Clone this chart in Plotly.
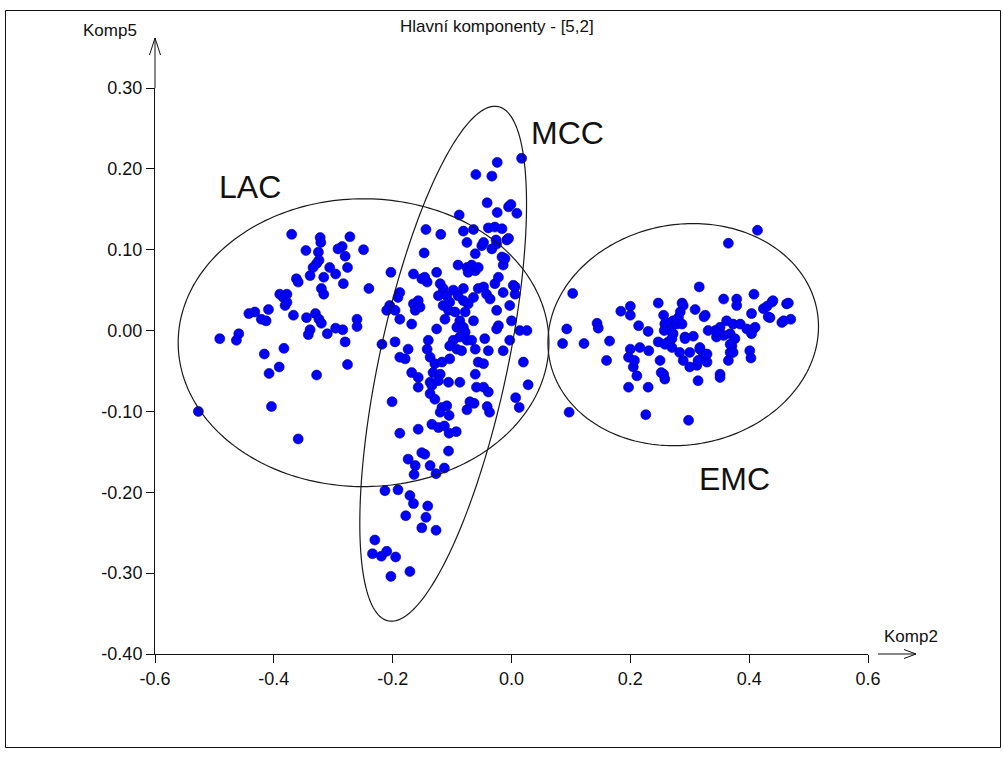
import numpy as np
import plotly.graph_objects as go

# Component scores (Komp2, Komp5) per group
lac_pts = [
    (-0.370, 0.119), (-0.322, 0.115), (-0.321, 0.109), (-0.272, 0.116), (-0.285, 0.104),
    (-0.292, 0.101), (-0.249, 0.100), (-0.346, 0.099), (-0.325, 0.097), (-0.280, 0.092),
    (-0.324, 0.087), (-0.328, 0.083), (-0.334, 0.078), (-0.306, 0.078), (-0.276, 0.078),
    (-0.339, 0.068), (-0.296, 0.070), (-0.316, 0.066), (-0.362, 0.064), (-0.359, 0.060),
    (-0.283, 0.058), (-0.320, 0.052), (-0.316, 0.045), (-0.240, 0.052), (-0.390, 0.045),
    (-0.378, 0.045), (-0.384, 0.041), (-0.381, 0.031), (-0.432, 0.023), (-0.409, 0.026),
    (-0.378, 0.035), (-0.442, 0.021), (-0.367, 0.019), (-0.421, 0.014), (-0.413, 0.012),
    (-0.345, 0.016), (-0.330, 0.021), (-0.324, 0.014), (-0.320, 0.009), (-0.339, 0.001),
    (-0.342, -0.005), (-0.310, -0.004), (-0.296, 0.003), (-0.284, 0.001), (-0.260, 0.014),
    (-0.260, 0.005), (-0.280, -0.014), (-0.491, -0.010), (-0.459, -0.004), (-0.463, -0.012),
    (-0.416, -0.029), (-0.383, -0.022), (-0.408, -0.053), (-0.391, -0.045), (-0.328, -0.055),
    (-0.276, -0.042), (-0.404, -0.094), (-0.527, -0.100), (-0.359, -0.134), (-0.203, 0.072),
    (-0.218, -0.017),
]

mcc_pts = [
    (-0.165, 0.070), (-0.147, 0.096), (-0.126, 0.072), (-0.151, 0.064), (-0.142, 0.060),
    (-0.188, 0.047), (-0.191, 0.041), (-0.205, 0.031), (-0.210, 0.025), (-0.196, 0.025),
    (-0.188, 0.014), (-0.165, 0.033), (-0.157, 0.037), (-0.162, 0.025), (-0.154, 0.029),
    (-0.168, 0.008), (-0.196, -0.014), (-0.174, -0.023), (-0.188, -0.033), (-0.179, -0.035),
    (-0.168, -0.052), (-0.157, -0.058), (-0.157, -0.070), (-0.140, -0.012), (-0.142, -0.023),
    (-0.137, -0.033), (-0.126, 0.002), (-0.120, 0.058), (-0.115, 0.052), (-0.123, 0.043),
    (-0.109, 0.043), (-0.098, 0.050), (-0.081, 0.052), (-0.090, 0.043), (-0.104, 0.035),
    (-0.115, 0.031), (-0.106, 0.025), (-0.095, 0.023), (-0.081, 0.037), (-0.073, 0.033),
    (-0.078, 0.023), (-0.064, 0.041), (-0.056, 0.052), (-0.047, 0.054), (-0.042, 0.045),
    (-0.036, 0.039), (-0.028, 0.058), (-0.022, 0.066), (-0.014, 0.047), (0.003, 0.056),
    (0.006, 0.045), (-0.003, 0.031), (-0.025, 0.025), (-0.064, 0.012), (-0.087, 0.012),
    (-0.112, 0.014), (-0.092, 0.004), (-0.081, 0.004), (-0.078, -0.002), (-0.087, -0.008),
    (-0.075, -0.012), (-0.067, -0.012), (-0.098, -0.012), (-0.104, -0.019), (-0.092, -0.023),
    (-0.084, -0.025), (-0.061, -0.023), (-0.045, -0.010), (-0.039, -0.025), (-0.022, 0.006),
    (0.000, 0.012), (-0.003, -0.012), (-0.014, -0.025), (0.014, 0.000), (0.026, 0.000),
    (-0.061, 0.074), (-0.075, 0.078), (-0.067, 0.081), (-0.056, 0.078), (-0.090, 0.081),
    (-0.073, 0.072), (-0.014, 0.081), (-0.016, 0.091), (-0.061, 0.095), (-0.050, 0.105),
    (-0.033, 0.101), (-0.025, 0.107), (-0.075, 0.109), (-0.008, 0.112), (-0.129, -0.041),
    (-0.117, -0.039), (-0.132, -0.052), (-0.120, -0.054), (-0.137, -0.064), (-0.123, -0.062),
    (-0.106, -0.064), (-0.087, -0.064), (-0.104, -0.035), (-0.061, -0.054), (-0.056, -0.039),
    (-0.047, -0.041), (-0.059, -0.070), (-0.047, -0.070), (0.020, -0.039), (0.028, -0.067),
    (-0.025, 0.002), (-0.134, -0.068), (-0.039, -0.076), (0.007, -0.083), (0.013, -0.095),
    (-0.201, -0.088), (-0.137, -0.078), (-0.129, -0.085), (-0.117, -0.095), (-0.109, -0.093),
    (-0.120, -0.101), (-0.105, -0.105), (-0.070, -0.088), (-0.063, -0.090), (-0.075, -0.098),
    (-0.041, -0.094), (-0.037, -0.101), (-0.134, -0.116), (-0.123, -0.120), (-0.113, -0.118),
    (-0.157, -0.122), (-0.188, -0.127), (-0.105, -0.127), (-0.093, -0.125), (-0.106, -0.149),
    (-0.151, -0.151), (-0.146, -0.153), (-0.174, -0.159), (-0.162, -0.167), (-0.137, -0.167),
    (-0.113, -0.170), (-0.127, -0.177), (-0.164, -0.178), (-0.213, -0.198), (-0.191, -0.197),
    (-0.171, -0.204), (-0.165, -0.214), (-0.141, -0.217), (-0.178, -0.229), (-0.144, -0.231),
    (-0.151, -0.244), (-0.127, -0.247), (-0.230, -0.259), (-0.234, -0.276), (-0.219, -0.279),
    (-0.210, -0.273), (-0.195, -0.280), (-0.203, -0.304), (-0.171, -0.298),
    (-0.024, 0.208), (0.017, 0.213), (-0.060, 0.193), (-0.033, 0.191), (-0.041, 0.158),
    (-0.024, 0.146), (-0.005, 0.153), (-0.001, 0.156), (0.009, 0.145), (-0.088, 0.143),
    (-0.144, 0.125), (-0.119, 0.119), (-0.081, 0.123), (-0.064, 0.125), (-0.039, 0.127),
    (-0.028, 0.128), (-0.016, 0.126), (-0.047, 0.109), (-0.026, 0.112), (-0.005, 0.114),
    (-0.011, 0.089), (-0.146, 0.066), (0.006, 0.054),
]

emc_pts = [
    (0.103, 0.046), (0.093, 0.002), (0.086, -0.016), (0.122, -0.016), (0.144, 0.009),
    (0.146, 0.003), (0.165, -0.013), (0.160, -0.037), (0.097, -0.101), (0.184, 0.024),
    (0.200, 0.030), (0.200, 0.019), (0.214, 0.006), (0.230, -0.001), (0.197, -0.070),
    (0.230, -0.070), (0.226, -0.104), (0.200, -0.023), (0.197, -0.033), (0.205, -0.045),
    (0.211, -0.056), (0.216, -0.021), (0.207, -0.037), (0.231, -0.025), (0.247, 0.034),
    (0.256, 0.019), (0.258, 0.008), (0.247, -0.014), (0.264, -0.014), (0.250, -0.037),
    (0.256, -0.054), (0.258, -0.060), (0.272, 0.012), (0.287, 0.034), (0.281, 0.016),
    (0.272, -0.004), (0.292, -0.008), (0.289, -0.037), (0.298, -0.111), (0.260, 0.010),
    (0.257, 0.000), (0.267, 0.000), (0.270, -0.010), (0.258, -0.017), (0.270, -0.021),
    (0.284, 0.023), (0.278, 0.008), (0.283, -0.027), (0.300, -0.027), (0.309, 0.026),
    (0.326, 0.019), (0.316, 0.054), (0.306, -0.007), (0.317, -0.023), (0.312, -0.043),
    (0.329, -0.039), (0.323, -0.029), (0.314, -0.062), (0.351, -0.054), (0.331, 0.000),
    (0.343, 0.000), (0.351, 0.004), (0.362, 0.012), (0.373, 0.008), (0.385, 0.008),
    (0.396, 0.002), (0.407, 0.002), (0.345, -0.008), (0.357, -0.006), (0.368, -0.004),
    (0.376, -0.010), (0.357, 0.039), (0.379, 0.039), (0.379, 0.031), (0.408, 0.045),
    (0.404, 0.021), (0.424, 0.027), (0.438, 0.035), (0.435, 0.016), (0.455, 0.010),
    (0.463, 0.033), (0.371, -0.019), (0.368, -0.027), (0.365, -0.037), (0.401, -0.025),
    (0.403, -0.034), (0.252, -0.052), (0.414, 0.124), (0.365, 0.108), (0.440, 0.037),
    (0.466, 0.034), (0.470, 0.014), (0.458, 0.012), (0.430, 0.030), (0.432, 0.017),
    (0.324, 0.017), (0.289, 0.031), (0.287, 0.008), (0.292, -0.010), (0.317, -0.021),
    (0.329, -0.029), (0.314, -0.037), (0.300, -0.045), (0.351, -0.058), (0.345, -0.002),
    (0.410, 0.004), (0.404, -0.004), (0.368, -0.017), (0.373, -0.027),
]

# Group outlines: centre, first semi-axis vector, second semi-axis vector (data units)
group_ellipses = {
    "LAC": ((-0.249, -0.015), (0.312, 0.0), (0.0, 0.178)),
    "MCC": ((-0.115, -0.041), (0.0926, 0.318), (0.1054, -0.0166)),
    "EMC": ((0.289, -0.005), (0.2254, 0.0292), (0.0322, -0.1342)),
}

group_labels = {
    "LAC": (-0.440, 0.177),
    "MCC": (0.095, 0.244),
    "EMC": (0.376, -0.183),
}

x_ticks = [-0.6, -0.4, -0.2, 0.0, 0.2, 0.4, 0.6]
x_tick_text = ["-0.6", "-0.4", "-0.2", "0.0", "0.2", "0.4", "0.6"]
y_ticks = [-0.4, -0.3, -0.2, -0.1, 0.0, 0.1, 0.2, 0.3]
y_tick_text = ["-0.40", "-0.30", "-0.20", "-0.10", "0.00", "0.10", "0.20", "0.30"]

FONT = "Liberation Sans, Arial, sans-serif"
INK = "#111111"
W, H = 1004, 760
ML, MR, MT, MB = 155, 136, 88, 106
PW, PH = W - ML - MR, H - MT - MB


def px(x):
    return (x - ML) / PW


def py(y):
    return (H - MB - y) / PH


def ellipse_path(c, u, v, n=240):
    t = np.linspace(0, 2 * np.pi, n)
    xs = c[0] + u[0] * np.cos(t) + v[0] * np.sin(t)
    ys = c[1] + u[1] * np.cos(t) + v[1] * np.sin(t)
    return "M " + " L ".join(f"{a:.5f},{b:.5f}" for a, b in zip(xs, ys)) + " Z"


all_pts = lac_pts + mcc_pts + emc_pts
xs = [p[0] for p in all_pts]
ys = [p[1] for p in all_pts]

fig = go.Figure()
fig.add_trace(go.Scatter(
    x=xs, y=ys, mode="markers",
    marker=dict(color="#0000ff", size=10, line=dict(width=0.6, color="#00008b")),
    hoverinfo="x+y", showlegend=False,
))

shapes = []
for name, (c, u, v) in group_ellipses.items():
    shapes.append(dict(type="path", xref="x", yref="y", path=ellipse_path(c, u, v),
                       line=dict(color="#1a1a1a", width=1.2), fillcolor="rgba(0,0,0,0)"))

line_style = dict(color=INK, width=1)
# y axis extension and arrow head
shapes.append(dict(type="line", xref="paper", yref="paper", x0=0, x1=0, y0=1, y1=py(38), line=line_style))
shapes.append(dict(type="path", xref="paper", yref="paper",
                   path=f"M {px(149.5)},{py(55)} L {px(155)},{py(38)} L {px(160.5)},{py(55)}",
                   line=line_style))
# x axis arrow beyond the last tick
shapes.append(dict(type="line", xref="paper", yref="paper", x0=px(878), x1=px(916), y0=0, y1=0, line=line_style))
shapes.append(dict(type="path", xref="paper", yref="paper",
                   path=f"M {px(904)},{py(649.5)} L {px(916)},{py(654)} L {px(904)},{py(658.5)}",
                   line=line_style))
# outer frame
shapes.append(dict(type="rect", xref="paper", yref="paper",
                   x0=px(5.5), x1=px(1000.5), y0=py(747.5), y1=py(10.5),
                   line=dict(color=INK, width=1)))

annotations = []
for name, (lx, ly) in group_labels.items():
    annotations.append(dict(x=lx, y=ly, xref="x", yref="y", text=name, showarrow=False,
                            xanchor="center", yanchor="middle",
                            font=dict(family=FONT, size=32, color=INK)))
annotations.append(dict(x=px(110), y=py(31), xref="paper", yref="paper", text="Komp5",
                        xanchor="center", yanchor="middle",
                        showarrow=False, font=dict(family=FONT, size=17, color=INK)))
annotations.append(dict(x=px(911), y=py(636), xref="paper", yref="paper", text="Komp2",
                        xanchor="center", yanchor="middle",
                        showarrow=False, font=dict(family=FONT, size=17, color=INK)))
annotations.append(dict(x=px(497), y=py(27), xref="paper", yref="paper",
                        text="Hlavní komponenty - [5,2]",
                        xanchor="center", yanchor="middle",
                        showarrow=False, font=dict(family=FONT, size=17, color=INK)))

fig.update_layout(
    width=W, height=H,
    margin=dict(l=ML, r=MR, t=MT, b=MB, pad=0),
    paper_bgcolor="white", plot_bgcolor="white",
    font=dict(family=FONT, size=18, color=INK),
    shapes=shapes, annotations=annotations,
    xaxis=dict(range=[-0.6, 0.6], tickvals=x_ticks, ticktext=x_tick_text,
               showgrid=False, zeroline=False, showline=True, linecolor=INK,
               linewidth=1, ticks="outside", ticklen=8, tickcolor=INK,
               tickfont=dict(family=FONT, size=18, color=INK)),
    yaxis=dict(range=[-0.4, 0.3], tickvals=y_ticks, ticktext=y_tick_text,
               showgrid=False, zeroline=False, showline=True, linecolor=INK,
               linewidth=1, ticks="outside", ticklen=8, tickcolor=INK,
               tickfont=dict(family=FONT, size=18, color=INK)),
)

fig.write_html("out.html")
